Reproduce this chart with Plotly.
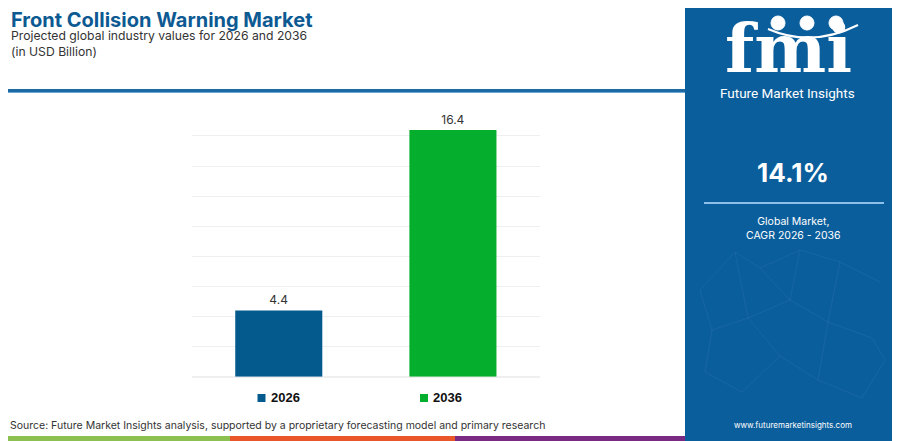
import plotly.graph_objects as go

years = ["2026", "2036"]
values = [4.4, 16.4]
bar_colors = ["#045a8d", "#06ae2d"]
cagr = "14.1%"

# the page body keeps its 8px margin, so the figure fills the rest of the window
OFF = 8
W, H = 900 - OFF, 441 - OFF


def px(x):
    return (x - OFF) / W


def py(y):
    return 1 - (y - OFF) / H


fig = go.Figure()
for yr, val, col in zip(years, values, bar_colors):
    fig.add_trace(go.Bar(
        x=[yr], y=[val], name=yr, width=0.5,
        marker=dict(color=col, line=dict(width=0)),
        text=[f"{val:.1f}"], textposition="outside", cliponaxis=False,
        textfont=dict(family="Inter, Roboto, sans-serif", size=12, color="#333333"),
        hoverinfo="skip",
    ))

shapes = [
    # header rule
    dict(type="line", xref="paper", yref="paper", x0=0, x1=px(685), y0=py(90.5), y1=py(90.5),
         line=dict(color="#1b6aa6", width=3)),
    dict(type="line", xref="paper", yref="paper", x0=0, x1=px(685), y0=py(92.5), y1=py(92.5),
         line=dict(color="#6fa6d3", width=1)),
    # right panel
    dict(type="rect", xref="paper", yref="paper", x0=px(685), x1=1, y0=1, y1=0,
         line=dict(width=0), fillcolor="#0b5e9c", layer="below"),
    # panel divider
    dict(type="line", xref="paper", yref="paper", x0=px(704), x1=px(884), y0=py(203), y1=py(203),
         line=dict(color="#8cc0e8", width=2)),
    # bottom colour strip
    dict(type="rect", xref="paper", yref="paper", x0=0, x1=px(230), y0=0, y1=py(436),
         line=dict(width=0), fillcolor="#8cc152"),
    dict(type="rect", xref="paper", yref="paper", x0=px(230), x1=px(455), y0=0, y1=py(436),
         line=dict(width=0), fillcolor="#e8562a"),
    dict(type="rect", xref="paper", yref="paper", x0=px(455), x1=px(685), y0=0, y1=py(436),
         line=dict(width=0), fillcolor="#7b2a83"),
    # legend squares
    dict(type="rect", xref="paper", yref="paper", x0=px(257.5), x1=px(265.5), y0=py(394), y1=py(402),
         line=dict(width=0), fillcolor=bar_colors[0]),
    dict(type="rect", xref="paper", yref="paper", x0=px(420), x1=px(428), y0=py(394), y1=py(402),
         line=dict(width=0), fillcolor=bar_colors[1]),
    # logo arc
    dict(type="path", xref="paper", yref="paper",
         path=f"M {px(768)},{py(29)} Q {px(812)},{py(48)} {px(858)},{py(25)}",
         line=dict(color="white", width=2)),
]
for cx in (778, 807, 836):
    shapes.append(dict(type="circle", xref="paper", yref="paper",
                       x0=px(cx - 7), x1=px(cx + 7), y0=py(16), y1=py(30),
                       line=dict(color="white", width=1), fillcolor="white"))

# faint network pattern in the panel
net_pts = [(700, 290), (735, 252), (760, 268), (800, 250), (840, 262), (880, 282),
           (712, 330), (748, 318), (790, 300), (828, 322), (872, 338),
           (705, 372), (742, 392), (780, 356), (818, 380), (862, 398), (885, 360)]
net_links = [(0, 1), (1, 2), (2, 3), (3, 4), (4, 5), (0, 6), (6, 7), (7, 8), (8, 9), (9, 10),
             (1, 7), (3, 8), (4, 9), (6, 11), (11, 12), (12, 13), (13, 14), (14, 15),
             (7, 13), (9, 14), (10, 16), (15, 16), (2, 8)]
for a, b in net_links:
    (x0, y0), (x1, y1) = net_pts[a], net_pts[b]
    shapes.append(dict(type="line", xref="paper", yref="paper",
                       x0=px(x0), x1=px(x1), y0=py(y0), y1=py(y1),
                       line=dict(color="rgba(140,190,230,0.09)", width=1)))

font = "Inter, Roboto, sans-serif"
annotations = [
    dict(text="<b>Front Collision Warning Market</b>", x=px(9), y=py(20), xanchor="left", yanchor="middle",
         font=dict(family=font, size=20, color="#0d5a93")),
    dict(text="Projected global industry values for 2026 and 2036", x=px(9), y=py(35), xanchor="left",
         yanchor="middle", font=dict(family=font, size=12.2, color="#333333")),
    dict(text="(in USD Billion)", x=px(9), y=py(51), xanchor="left", yanchor="middle",
         font=dict(family=font, size=12.2, color="#333333")),
    dict(text="<b>2026</b>", x=px(269), y=py(397.5), xanchor="left", yanchor="middle",
         font=dict(family="Liberation Sans, Arial, sans-serif", size=13, color="#111111")),
    dict(text="<b>2036</b>", x=px(431), y=py(397.5), xanchor="left", yanchor="middle",
         font=dict(family="Liberation Sans, Arial, sans-serif", size=13, color="#111111")),
    dict(text="Source: Future Market Insights analysis, supported by a proprietary forecasting model and primary research",
         x=px(8), y=py(425), xanchor="left", yanchor="middle",
         font=dict(family=font, size=10.5, color="#333333")),
    dict(text="<b>fmi</b>", x=px(788), y=py(48), xanchor="center", yanchor="middle",
         font=dict(family="DejaVu Serif, serif", size=68, color="white")),
    dict(text="Future Market Insights", x=px(787), y=py(93), xanchor="center", yanchor="middle",
         font=dict(family="Roboto, sans-serif", size=13.5, color="white")),
    dict(text=f"<b>{cagr}</b>", x=px(793), y=py(172), xanchor="center", yanchor="middle",
         font=dict(family=font, size=26, color="white")),
    dict(text="Global Market,<br>CAGR 2026 - 2036", x=px(793), y=py(228), xanchor="center", yanchor="middle",
         font=dict(family=font, size=10.5, color="white")),
    dict(text="www.futuremarketinsights.com", x=px(793), y=py(425), xanchor="center", yanchor="middle",
         font=dict(family=font, size=8, color="white")),
]
for a in annotations:
    a.update(xref="paper", yref="paper", showarrow=False)

fig.update_layout(
    width=W, height=H,
    margin=dict(l=0, r=0, t=0, b=0),
    paper_bgcolor="white", plot_bgcolor="white",
    barmode="overlay", showlegend=False,
    xaxis=dict(domain=[px(191.7), px(540)], showticklabels=False, showgrid=False,
               zeroline=False, showline=False, ticks=""),
    yaxis=dict(domain=[py(376.7), py(105.8)], range=[0, 18], dtick=2, showticklabels=False,
               showgrid=True, gridcolor="#efefef", gridwidth=1, zeroline=True,
               zerolinecolor="#efefef", ticks=""),
    shapes=shapes, annotations=annotations,
)

fig.write_html("out.html")
